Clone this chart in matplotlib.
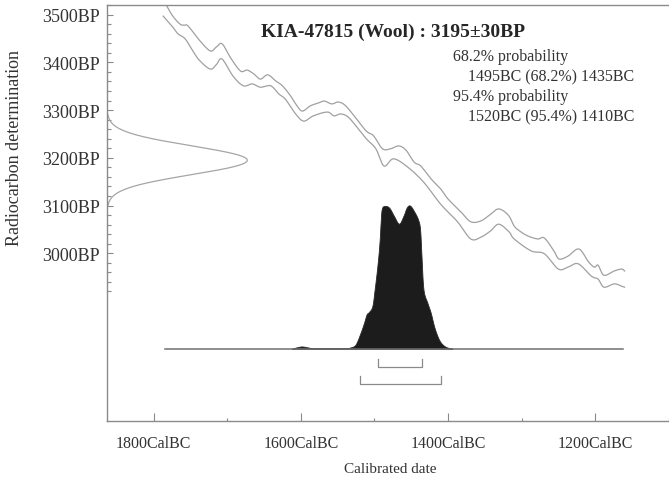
import matplotlib
matplotlib.use("Agg")
import matplotlib.pyplot as plt
import numpy as np
from matplotlib.ticker import FixedLocator

plt.rcParams['font.family'] = ['Liberation Serif', 'DejaVu Serif']

# ---------------- data ----------------
title = "KIA-47815 (Wool) : 3195\u00b130BP"
c14_mean = 3195
c14_err = 30

prob_lines = ["68.2% probability", "1495BC (68.2%) 1435BC",
              "95.4% probability", "1520BC (95.4%) 1410BC"]
range68 = (1495, 1435)
range95 = (1520, 1410)

x_ticks = [1800, 1600, 1400, 1200]
x_tick_labels = ["1800CalBC", "1600CalBC", "1400CalBC", "1200CalBC"]
y_ticks = [3000, 3100, 3200, 3300, 3400, 3500]
y_tick_labels = ["3000BP", "3100BP", "3200BP", "3300BP", "3400BP", "3500BP"]

# calibration curve (+/- 1 sigma envelope)
upper_bc = [1787, 1782, 1774, 1764, 1758, 1753, 1737, 1723, 1715, 1707,
            1696, 1682, 1673, 1664, 1655, 1645, 1634, 1625, 1614, 1606,
            1598, 1587, 1576, 1568, 1558, 1549, 1539, 1524, 1511, 1501,
            1489, 1478, 1467, 1457, 1446, 1437, 1423, 1410, 1400, 1382,
            1369, 1355, 1342, 1331, 1318, 1310, 1301, 1291, 1278, 1269,
            1256, 1249, 1237, 1222, 1209, 1201, 1196, 1188, 1174, 1164, 1160]
upper_bp = [3533, 3518, 3497, 3480, 3478, 3476, 3445, 3424, 3432, 3439,
            3411, 3382, 3384, 3376, 3365, 3374, 3361, 3351, 3330, 3311,
            3298, 3309, 3315, 3319, 3313, 3317, 3309, 3281, 3256, 3246,
            3219, 3219, 3225, 3216, 3191, 3183, 3156, 3135, 3114, 3086,
            3066, 3068, 3082, 3093, 3080, 3057, 3045, 3036, 3030, 3032,
            3005, 2988, 2994, 3009, 2982, 2971, 2975, 2954, 2963, 2967, 2963]
lower_bc = [1787, 1774, 1767, 1757, 1746, 1737, 1723, 1715, 1707, 1692,
            1678, 1666, 1655, 1641, 1630, 1621, 1607, 1596, 1583, 1564,
            1555, 1546, 1536, 1524, 1511, 1498, 1487, 1474, 1455, 1433,
            1410, 1387, 1369, 1355, 1342, 1331, 1317, 1310, 1287, 1269,
            1250, 1237, 1223, 1205, 1196, 1188, 1174, 1164, 1160]
lower_bp = [3497, 3474, 3460, 3449, 3422, 3403, 3386, 3395, 3407, 3371,
            3351, 3355, 3348, 3351, 3334, 3323, 3292, 3277, 3288, 3296,
            3288, 3292, 3286, 3265, 3240, 3219, 3183, 3198, 3181, 3149,
            3103, 3066, 3030, 3034, 3047, 3061, 3045, 3030, 3005, 2999,
            2967, 2971, 2978, 2952, 2946, 2929, 2936, 2931, 2929]

# calibrated (posterior) probability distribution, relative
post_bc = [1612, 1604, 1598, 1591, 1584, 1570, 1550, 1538, 1532, 1525.5,
           1518.7, 1514, 1510.6, 1507.4, 1502.8, 1499.7, 1496.9, 1494.6, 1492.8, 1491.5,
           1490.1, 1487, 1480.2, 1473.4, 1466.6, 1460.6, 1456, 1451.6, 1446.1, 1440.7,
           1437.9, 1436, 1433.3, 1427.9, 1423.4, 1418.9, 1414.2, 1409.7, 1402.9, 1393.8]
post_p = [0, 0.012, 0.016, 0.01, 0.004, 0.004, 0.004, 0.005, 0.01, 0.03,
          0.113, 0.183, 0.24, 0.257, 0.297, 0.413, 0.533, 0.647, 0.763, 0.883,
          0.973, 0.997, 0.987, 0.927, 0.873, 0.927, 0.987, 1.0, 0.96, 0.903,
          0.833, 0.647, 0.413, 0.32, 0.25, 0.157, 0.087, 0.043, 0.013, 0]

cal_range = (1785, 1162)   # extent of calibration baseline

# ---------------- layout constants ----------------
XLIM = (1863.4, 1097.8)
YLIM = (2648.6, 3520.3)
BASE = 2800       # posterior baseline (BP units)
POST_H = 300      # posterior max height (BP units)
LIK_W = 190.7     # likelihood max width (years)

TXT = "#333333"
LINE = "#a0a0a0"


def smooth(xs, ys, n=12):
    xs = np.asarray(xs, float); ys = np.asarray(ys, float)
    P = np.column_stack([xs, ys])
    P = np.vstack([P[0], P, P[-1]])
    out = []
    t = np.linspace(0, 1, n, endpoint=False)
    for i in range(1, len(P) - 2):
        p0, p1, p2, p3 = P[i - 1], P[i], P[i + 1], P[i + 2]
        tt = t[:, None]
        seg = 0.5 * ((2 * p1) + (-p0 + p2) * tt + (2 * p0 - 5 * p1 + 4 * p2 - p3) * tt ** 2
                     + (-p0 + 3 * p1 - 3 * p2 + p3) * tt ** 3)
        out.append(seg)
    out.append(P[-2][None, :])
    out = np.vstack(out)
    return out[:, 0], out[:, 1]


fig = plt.figure(figsize=(6.69, 4.85), dpi=100)
ax = fig.add_axes([107 / 669, 1 - 422 / 485, 1 - 107 / 669 + 0.002, (422 - 6) / 485])
ax.set_xlim(*XLIM)
ax.set_ylim(*YLIM)

# calibration curve
ux, uy = smooth(upper_bc, upper_bp)
lx, ly = smooth(lower_bc, lower_bp)
ax.plot(ux, uy, color=LINE, lw=0.9)
ax.plot(lx, ly, color=LINE, lw=0.9)

# likelihood on y-axis
yy = np.linspace(c14_mean - 3.2 * c14_err, c14_mean + 3.2 * c14_err, 300)
g = np.exp(-0.5 * ((yy - c14_mean) / c14_err) ** 2)
ax.plot(XLIM[0] - LIK_W * g, yy, color="#a5a5a5", lw=0.9)

# posterior
px, pp = smooth(post_bc, post_p, n=6)
pp = np.clip(pp, 0, None)
ax.fill_between(px, BASE, BASE + POST_H * pp, color="#1c1c1c", lw=0.6, edgecolor="#2a2a2a")
ax.plot(cal_range, [BASE, BASE], color="#707070", lw=1.1)

# range brackets
for (a, b), yb in ((range68, BASE - 39), (range95, BASE - 74)):
    ax.plot([a, a, b, b], [yb + 17, yb, yb, yb + 17], color="#8a8a8a", lw=0.9)

# spines and ticks
for s in ("left", "bottom", "top"):
    ax.spines[s].set_color("#8a8a8a")
    ax.spines[s].set_linewidth(1.0)
ax.spines["right"].set_visible(False)

ax.xaxis.set_major_locator(FixedLocator(x_ticks))
ax.set_xticklabels(x_tick_labels)
ax.xaxis.set_minor_locator(FixedLocator([1700, 1500, 1300, 1100]))
ax.yaxis.set_major_locator(FixedLocator(y_ticks))
ax.set_yticklabels(y_tick_labels)
ax.yaxis.set_minor_locator(FixedLocator([v for v in range(2920, 3521, 20) if v % 100 != 0]))
ax.tick_params(axis="x", which="major", direction="in", length=5.5, width=0.8,
               color="#8a8a8a", pad=10, labelsize=11.5, labelcolor=TXT)
ax.tick_params(axis="x", which="minor", direction="in", length=2.5, width=0.8, color="#8a8a8a")
ax.tick_params(axis="y", which="major", direction="in", length=4, width=0.8,
               color="#8a8a8a", pad=5, labelsize=13, labelcolor=TXT)
ax.tick_params(axis="y", which="minor", direction="in", length=3, width=0.8, color="#8a8a8a")

# texts
ax.text(0.507, 0.9375, title, transform=ax.transAxes, ha="center", va="center",
        fontsize=14, fontweight="bold", color="#262626")
ys = [0.877, 0.829, 0.781, 0.733]
xs = [0.614, 0.640, 0.614, 0.640]
for t, x0, y0 in zip(prob_lines, xs, ys):
    ax.text(x0, y0, t, transform=ax.transAxes, ha="left", va="center",
            fontsize=11.5, color=TXT)

fig.text(15 / 669, 1 - 148 / 485, "Radiocarbon determination", rotation=90,
         ha="center", va="center", fontsize=13, color=TXT)
fig.text(390 / 669, 1 - 470 / 485, "Calibrated date", ha="center", va="center",
         fontsize=11, color=TXT)

fig.savefig("out.png", dpi=100)
